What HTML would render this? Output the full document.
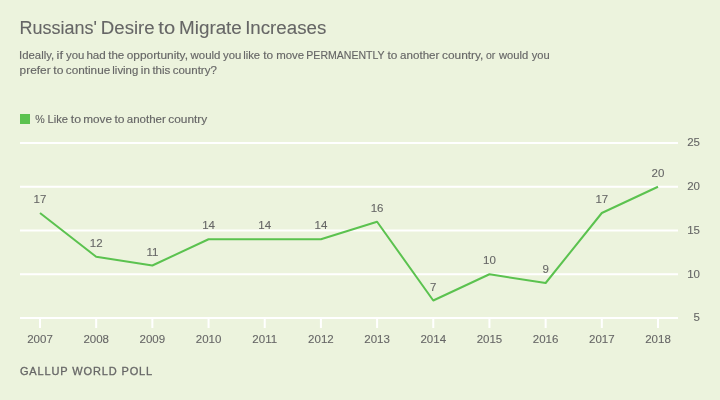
<!DOCTYPE html>
<html lang="en"><head><meta charset="utf-8"><title>Russians' Desire to Migrate Increases</title>
<style>
html,body{margin:0;padding:0;background:#ecf3dd;}
body{width:720px;height:400px;overflow:hidden;}
svg{display:block;}
text{font-family:"Liberation Sans",sans-serif;fill:#666666;stroke:#666666;stroke-width:0.15px;}
.t{font-size:18px;stroke-width:0.1px;}
.s{font-size:11.5px;}
.l{font-size:11.5px;}
.a{font-size:11.5px;text-anchor:middle;stroke-width:0.1px;}
.y{font-size:11.5px;text-anchor:end;stroke-width:0.1px;}
.f{font-size:11px;letter-spacing:0.87px;stroke-width:0.3px;}
</style></head><body>
<svg width="720" height="400" viewBox="0 0 720 400">
<rect width="720" height="400" fill="#ecf3dd"/>
<text class="t" y="33.7"><tspan x="19.53" textLength="77.38" lengthAdjust="spacingAndGlyphs">Russians'</tspan> <tspan x="100.88" textLength="53.70" lengthAdjust="spacingAndGlyphs">Desire</tspan> <tspan x="158.31" textLength="16.81" lengthAdjust="spacingAndGlyphs">to</tspan> <tspan x="179.06" textLength="62.78" lengthAdjust="spacingAndGlyphs">Migrate</tspan> <tspan x="245.17" textLength="81.10" lengthAdjust="spacingAndGlyphs">Increases</tspan></text>
<text class="s" y="59"><tspan x="19.08" textLength="35.12" lengthAdjust="spacingAndGlyphs">Ideally,</tspan> <tspan x="56.54" textLength="6.44" lengthAdjust="spacingAndGlyphs">if</tspan> <tspan x="66.07" textLength="18.39" lengthAdjust="spacingAndGlyphs">you</tspan> <tspan x="86.40" textLength="19.35" lengthAdjust="spacingAndGlyphs">had</tspan> <tspan x="108.22" textLength="16.09" lengthAdjust="spacingAndGlyphs">the</tspan> <tspan x="126.71" textLength="61.25" lengthAdjust="spacingAndGlyphs">opportunity,</tspan> <tspan x="190.52" textLength="29.92" lengthAdjust="spacingAndGlyphs">would</tspan> <tspan x="223.07" textLength="18.28" lengthAdjust="spacingAndGlyphs">you</tspan> <tspan x="243.24" textLength="16.86" lengthAdjust="spacingAndGlyphs">like</tspan> <tspan x="263.22" textLength="9.88" lengthAdjust="spacingAndGlyphs">to</tspan> <tspan x="276.24" textLength="27.97" lengthAdjust="spacingAndGlyphs">move</tspan> <tspan x="306.35" textLength="78.08" lengthAdjust="spacingAndGlyphs">PERMANENTLY</tspan> <tspan x="387.52" textLength="9.88" lengthAdjust="spacingAndGlyphs">to</tspan> <tspan x="400.11" textLength="39.28" lengthAdjust="spacingAndGlyphs">another</tspan> <tspan x="442.01" textLength="41.34" lengthAdjust="spacingAndGlyphs">country,</tspan> <tspan x="486.06" textLength="9.31" lengthAdjust="spacingAndGlyphs">or</tspan> <tspan x="499.02" textLength="29.31" lengthAdjust="spacingAndGlyphs">would</tspan> <tspan x="531.77" textLength="17.97" lengthAdjust="spacingAndGlyphs">you</tspan></text>
<text class="s" y="74"><tspan x="19.64" textLength="30.96" lengthAdjust="spacingAndGlyphs">prefer</tspan> <tspan x="53.32" textLength="10.09" lengthAdjust="spacingAndGlyphs">to</tspan> <tspan x="65.80" textLength="44.42" lengthAdjust="spacingAndGlyphs">continue</tspan> <tspan x="112.33" textLength="25.90" lengthAdjust="spacingAndGlyphs">living</tspan> <tspan x="140.81" textLength="9.15" lengthAdjust="spacingAndGlyphs">in</tspan> <tspan x="152.42" textLength="17.99" lengthAdjust="spacingAndGlyphs">this</tspan> <tspan x="172.71" textLength="44.12" lengthAdjust="spacingAndGlyphs">country?</tspan></text>
<rect x="20" y="114" width="10" height="10" fill="#5bc24f"/>
<text class="l" y="122.8"><tspan x="35.32" textLength="9.46" lengthAdjust="spacingAndGlyphs">%</tspan> <tspan x="47.58" textLength="20.51" lengthAdjust="spacingAndGlyphs">Like</tspan> <tspan x="70.81" textLength="10.31" lengthAdjust="spacingAndGlyphs">to</tspan> <tspan x="83.22" textLength="28.81" lengthAdjust="spacingAndGlyphs">move</tspan> <tspan x="114.42" textLength="10.09" lengthAdjust="spacingAndGlyphs">to</tspan> <tspan x="126.76" textLength="39.03" lengthAdjust="spacingAndGlyphs">another</tspan> <tspan x="168.24" textLength="39.03" lengthAdjust="spacingAndGlyphs">country</tspan></text>

<rect x="20" y="142.00" width="658" height="2" fill="#ffffff"/>
<text class="y" x="700" y="146.30">25</text>
<rect x="20" y="185.75" width="658" height="2" fill="#ffffff"/>
<text class="y" x="700" y="190.05">20</text>
<rect x="20" y="229.50" width="658" height="2" fill="#ffffff"/>
<text class="y" x="700" y="233.80">15</text>
<rect x="20" y="273.25" width="658" height="2" fill="#ffffff"/>
<text class="y" x="700" y="277.55">10</text>
<rect x="20" y="317.00" width="658" height="2" fill="#ffffff"/>
<text class="y" x="700" y="321.30">5</text>
<rect x="39.00" y="318" width="2" height="10" fill="#ffffff"/>
<text class="a" x="40.00" y="343">2007</text>
<rect x="95.18" y="318" width="2" height="10" fill="#ffffff"/>
<text class="a" x="96.18" y="343">2008</text>
<rect x="151.36" y="318" width="2" height="10" fill="#ffffff"/>
<text class="a" x="152.36" y="343">2009</text>
<rect x="207.55" y="318" width="2" height="10" fill="#ffffff"/>
<text class="a" x="208.55" y="343">2010</text>
<rect x="263.73" y="318" width="2" height="10" fill="#ffffff"/>
<text class="a" x="264.73" y="343">2011</text>
<rect x="319.91" y="318" width="2" height="10" fill="#ffffff"/>
<text class="a" x="320.91" y="343">2012</text>
<rect x="376.09" y="318" width="2" height="10" fill="#ffffff"/>
<text class="a" x="377.09" y="343">2013</text>
<rect x="432.27" y="318" width="2" height="10" fill="#ffffff"/>
<text class="a" x="433.27" y="343">2014</text>
<rect x="488.45" y="318" width="2" height="10" fill="#ffffff"/>
<text class="a" x="489.45" y="343">2015</text>
<rect x="544.64" y="318" width="2" height="10" fill="#ffffff"/>
<text class="a" x="545.64" y="343">2016</text>
<rect x="600.82" y="318" width="2" height="10" fill="#ffffff"/>
<text class="a" x="601.82" y="343">2017</text>
<rect x="657.00" y="318" width="2" height="10" fill="#ffffff"/>
<text class="a" x="658.00" y="343">2018</text>
<polyline points="40.00,213.00 96.18,256.75 152.36,265.50 208.55,239.25 264.73,239.25 320.91,239.25 377.09,221.75 433.27,300.50 489.45,274.25 545.64,283.00 601.82,213.00 658.00,186.75" fill="none" stroke="#5bc24f" stroke-width="2" stroke-linejoin="round" stroke-linecap="butt"/>
<text class="a" x="40.00" y="203.00">17</text>
<text class="a" x="96.18" y="246.75">12</text>
<text class="a" x="152.36" y="255.50">11</text>
<text class="a" x="208.55" y="229.25">14</text>
<text class="a" x="264.73" y="229.25">14</text>
<text class="a" x="320.91" y="229.25">14</text>
<text class="a" x="377.09" y="211.75">16</text>
<text class="a" x="433.27" y="290.50">7</text>
<text class="a" x="489.45" y="264.25">10</text>
<text class="a" x="545.64" y="273.00">9</text>
<text class="a" x="601.82" y="203.00">17</text>
<text class="a" x="658.00" y="176.75">20</text>
<text class="f" x="19.9" y="375">GALLUP WORLD POLL</text>
</svg></body></html>
